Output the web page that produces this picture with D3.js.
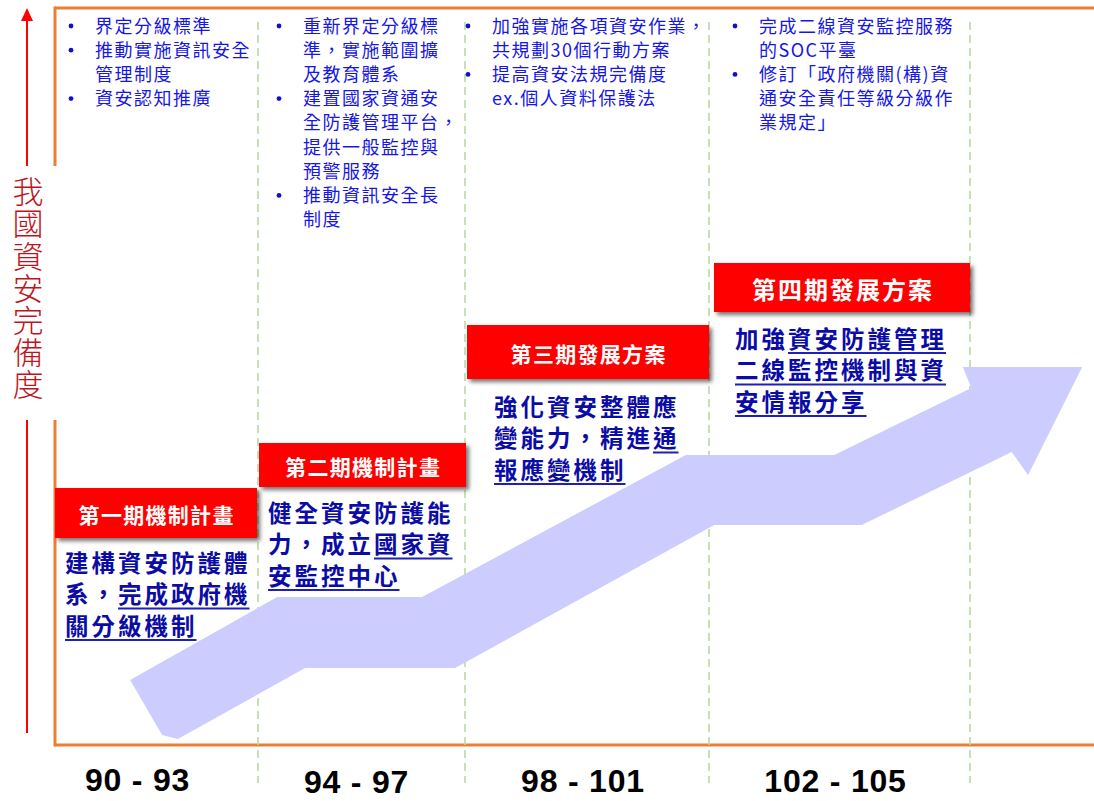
<!DOCTYPE html>
<html><head><meta charset="utf-8">
<script src="https://cdn.jsdelivr.net/npm/d3@7"></script>
<style>html,body{margin:0;padding:0;background:#fff;overflow:hidden}</style>
</head><body>
<svg id="c" width="1094" height="801"></svg>
<script>
// ---------------- data ----------------
const axisTitle = "我國資安完備度";
const periods = ["90 - 93", "94 - 97", "98 - 101", "102 - 105"];
const yearBreaks = [90, 94, 98, 102, 106];
const phaseTitles = ["第一期機制計畫", "第二期機制計畫", "第三期發展方案", "第四期發展方案"];
// [..] marks underlined text
const phaseGoals = [
  ["建構資安防護體", "系，[完成政府機]", "[關分級機制]"],
  ["健全資安防護能", "力，成立[國家資]", "[安監控中心]"],
  ["強化資安整體應", "變能力，精進[通]", "[報應變機制]"],
  ["加強[資安防護管理]", "[二線監控機制與資]", "[安情報分享]"]
];
const phaseTasks = [
  [["界定分級標準"], ["推動實施資訊安全", "管理制度"], ["資安認知推廣"]],
  [["重新界定分級標", "準，實施範圍擴", "及教育體系"], ["建置國家資通安", "全防護管理平台，", "提供一般監控與", "預警服務"], ["推動資訊安全長", "制度"]],
  [["加強實施各項資安作業，", "共規劃30個行動方案"], ["提高資安法規完備度", "ex.個人資料保護法"]],
  [["完成二線資安監控服務", "的SOC平臺"], ["修訂「政府機關(構)資", "通安全責任等級分級作", "業規定」"]]
];
// growth arrow outline: [year, completeness level]
const arrowOutline = [
  [91.48, 8.82], [94.37, 20.08], [97.17, 20.08], [101.62, 39.35], [103.92, 39.35],
  [106.02, 48.44], [105.89, 51.29], [107.72, 51.29], [106.89, 36.64], [106.64, 39.76],
  [104.34, 29.85], [102.08, 29.85], [97.81, 10.45], [94.91, 10.45], [92.42, 0.81], [92.11, 1.36]
];

// ---------------- layout ----------------
const svg = d3.select("#c");
const x = d3.scaleLinear().domain(yearBreaks).range([55, 258, 465, 709, 970]);
const y = d3.scaleLinear().domain([0, 100]).range([745, 8]);
const CJK = "'Noto Sans CJK TC','Noto Sans CJK SC',sans-serif";

const defs = svg.append("defs");
const f = defs.append("filter").attr("id", "sh").attr("x", "-10%").attr("y", "-20%").attr("width", "130%").attr("height", "160%");
f.append("feDropShadow").attr("dx", 3).attr("dy", 3).attr("stdDeviation", 2)
  .attr("flood-color", "#000").attr("flood-opacity", 0.55);

// frame
const frameColor = "#ED7D31";
const fx = x(90), fTop = y(100), fBot = y(0);
svg.append("line").attr("x1", fx).attr("x2", 1100).attr("y1", fTop).attr("y2", fTop)
  .attr("stroke", frameColor).attr("stroke-width", 3);
svg.append("line").attr("x1", fx).attr("x2", 1100).attr("y1", fBot).attr("y2", fBot)
  .attr("stroke", frameColor).attr("stroke-width", 3);
[[fTop - 1.5, 166], [420, fBot + 1.5]].forEach(([a, b]) =>
  svg.append("line").attr("x1", fx).attr("x2", fx).attr("y1", a).attr("y2", b)
    .attr("stroke", frameColor).attr("stroke-width", 3));

// dashed separators
svg.selectAll("line.sep").data(yearBreaks.slice(1)).join("line").attr("class", "sep")
  .attr("x1", d => x(d)).attr("x2", d => x(d))
  .attr("y1", 22).attr("y2", 783)
  .attr("stroke", "#B9DAA3").attr("stroke-width", 1.6).attr("stroke-dasharray", "8,5");

// arrow
svg.append("path")
  .attr("d", d3.line().x(d => x(d[0])).y(d => y(d[1]))(arrowOutline) + "Z")
  .attr("fill", "#CCCCFF");

// phase boxes
const boxY = [[488, 538], [443, 487], [325, 379], [263, 312]];
const boxX = [[55, 257], [259, 466], [467, 709], [714, 970]];
const boxFont = [21, 21, 21, 24];
const boxLS = [1.3, 1.3, 1.3, 2];
phaseTitles.forEach((t, i) => {
  svg.append("rect").attr("x", boxX[i][0]).attr("y", boxY[i][0])
    .attr("width", boxX[i][1] - boxX[i][0]).attr("height", boxY[i][1] - boxY[i][0])
    .attr("fill", "#FF0000").attr("filter", "url(#sh)");
  svg.append("text").attr("x", (boxX[i][0] + boxX[i][1]) / 2 + boxLS[i] / 2)
    .attr("y", (boxY[i][0] + boxY[i][1]) / 2 + 1)
    .attr("text-anchor", "middle").attr("dominant-baseline", "central")
    .attr("fill", "#fff").attr("font-family", CJK).attr("font-weight", 700)
    .attr("font-size", boxFont[i]).attr("letter-spacing", boxLS[i]).text(t);
});

// goal texts
const goalX = [65, 268, 494, 735];
const goalY = [563, 513, 407, 339];
const goalColor = "#0B0BA6";
phaseGoals.forEach((lines, i) => {
  lines.forEach((str, j) => {
    const cy = goalY[i] + j * 31.5;
    const base = cy + 8.5;
    let cx = goalX[i];
    str.split(/(\[[^\]]*\])/).filter(s => s).forEach(p => {
      const u = p.startsWith("[");
      const t = u ? p.slice(1, -1) : p;
      const te = svg.append("text").attr("x", cx).attr("y", base)
        .attr("fill", goalColor).attr("font-family", CJK).attr("font-weight", 700)
        .attr("font-size", 23.5).attr("letter-spacing", 3).text(t);
      const w = te.node().getComputedTextLength();
      if (u) svg.append("line").attr("x1", cx).attr("x2", cx + w - 1)
        .attr("y1", base + 5.5).attr("y2", base + 5.5)
        .attr("stroke", "#1F1FC0").attr("stroke-width", 2);
      cx += w;
    });
  });
});

// task bullets
const taskX = [95, 303, 492, 759];
const taskColor = "#1616E8";
phaseTasks.forEach((items, i) => {
  let line = 0;
  items.forEach(item => {
    svg.append("circle").attr("cx", taskX[i] - 24).attr("cy", 26 + line * 24.2).attr("r", 2.4).attr("fill", "#1010D0");
    item.forEach(t => {
      svg.append("text").attr("x", taskX[i]).attr("y", 26 + line * 24.2 + 6.5)
        .attr("fill", taskColor).attr("font-family", CJK).attr("font-size", 18)
        .attr("letter-spacing", 1.5).text(t);
      line++;
    });
  });
});

// period labels
const labDx = [-19, -5, -4, -4];
const labY = [791, 793, 792, 792];
svg.selectAll("text.per").data(periods).join("text").attr("class", "per")
  .attr("x", (d, i) => (x(yearBreaks[i]) + x(yearBreaks[i + 1])) / 2 + labDx[i])
  .attr("y", (d, i) => labY[i])
  .attr("text-anchor", "middle").attr("fill", "#000")
  .attr("font-family", "'Liberation Sans',Arial,sans-serif").attr("font-weight", 700)
  .attr("font-size", 32).attr("letter-spacing", 0.8).text(d => d);

// vertical axis arrow and title
const ax = 27;
[[20, 166], [420, 733]].forEach(([a, b]) =>
  svg.append("line").attr("x1", ax).attr("x2", ax).attr("y1", a).attr("y2", b)
    .attr("stroke", "#FF0000").attr("stroke-width", 2));
svg.append("path").attr("d", `M${ax},8 L${ax + 6},21 L${ax - 6},21 Z`).attr("fill", "#FF0000");
svg.append("text").attr("x", ax + 1).attr("y", 192 + 3 * 32.2)
  .attr("text-anchor", "middle")
  .style("writing-mode", "vertical-rl").style("text-orientation", "upright")
  .attr("letter-spacing", 1.2)
  .attr("fill", "#C0141C").attr("font-family", CJK).attr("font-weight", 300)
  .attr("font-size", 31).text(axisTitle);
</script>
</body></html>
